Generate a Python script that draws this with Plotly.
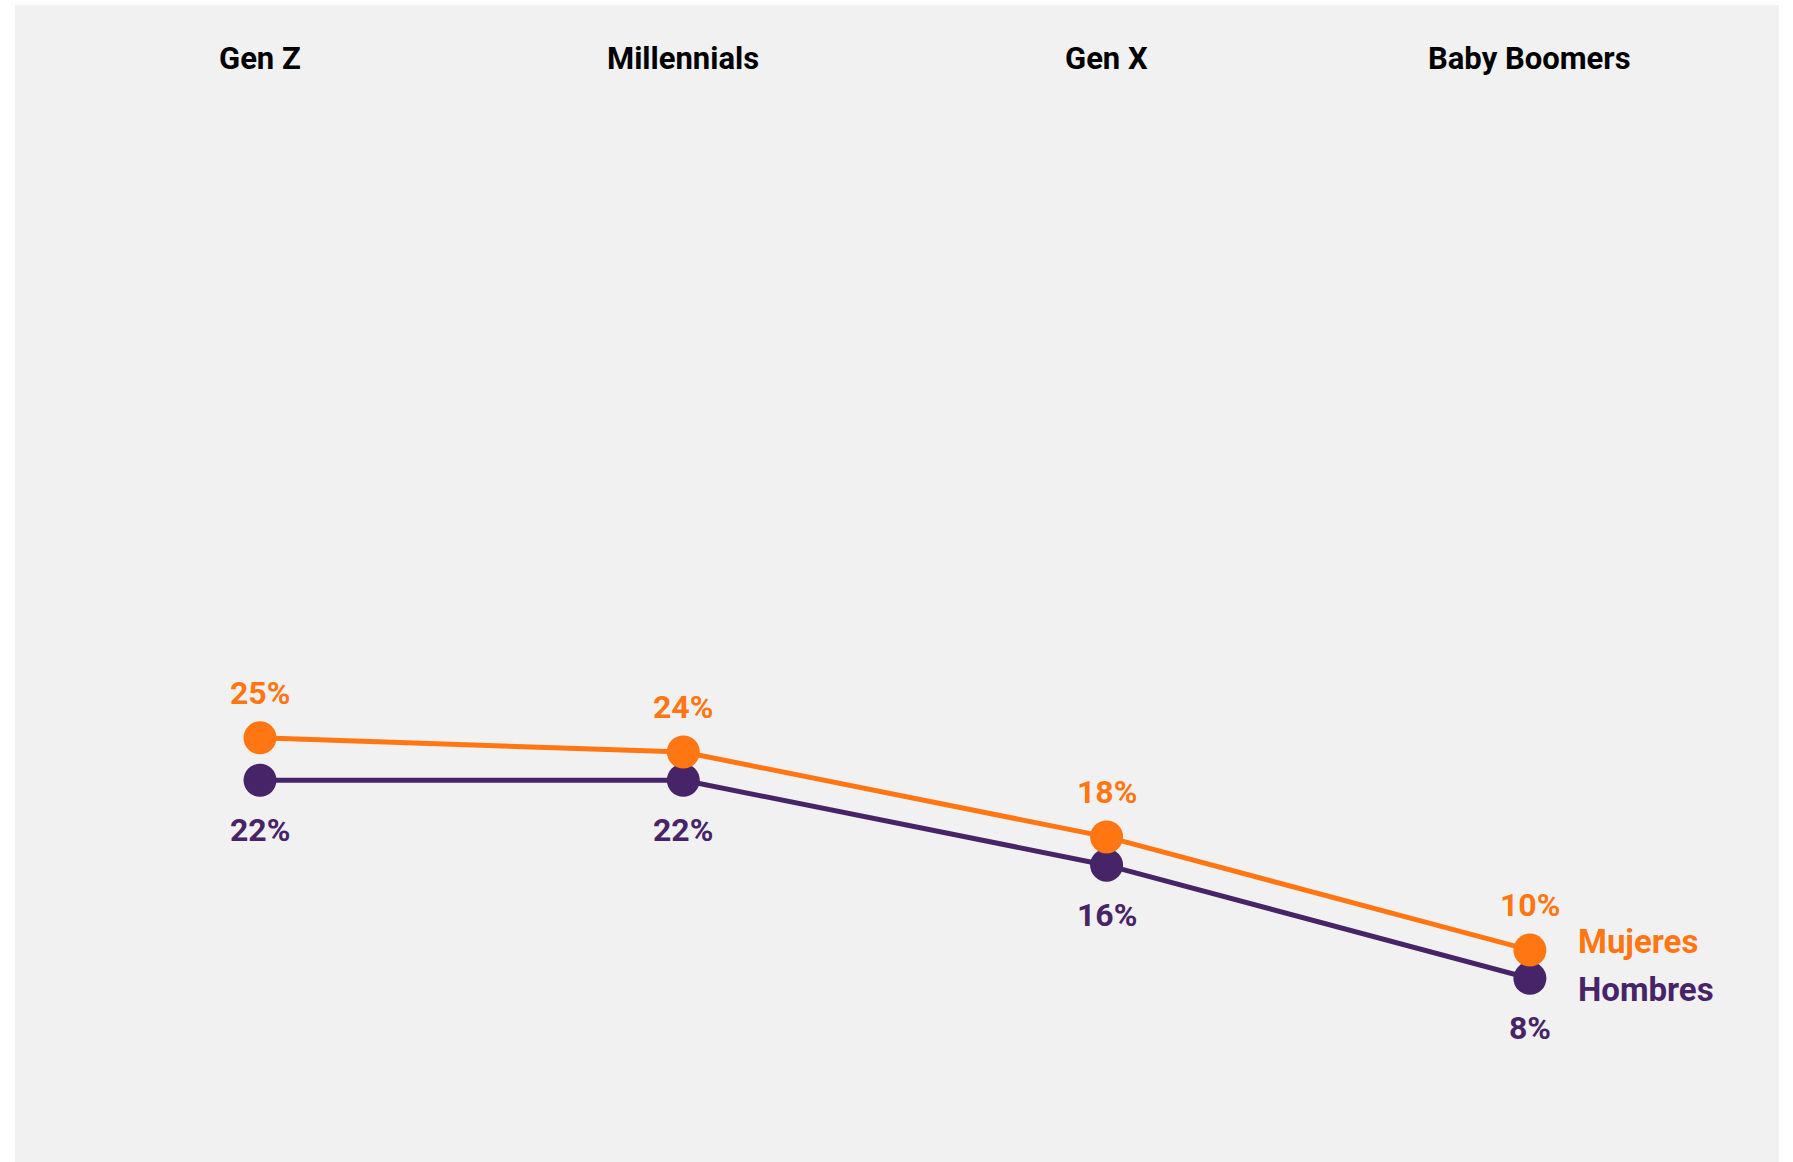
import plotly.graph_objects as go

categories = ["Gen Z", "Millennials", "Gen X", "Baby Boomers"]
mujeres = [25, 24, 18, 10]
hombres = [22, 22, 16, 8]
series_names = ["Mujeres", "Hombres"]

ORANGE = "#FF7612"
PURPLE = "#472467"
FONT = "Roboto"

xs = list(range(len(categories)))

fig = go.Figure()
fig.add_trace(go.Scatter(
    x=xs, y=hombres, mode="lines+markers",
    line=dict(color=PURPLE, width=5),
    marker=dict(color=PURPLE, size=33),
    hoverinfo="skip", showlegend=False))
fig.add_trace(go.Scatter(
    x=xs, y=mujeres, mode="lines+markers",
    line=dict(color=ORANGE, width=5),
    marker=dict(color=ORANGE, size=33),
    hoverinfo="skip", showlegend=False))

annotations = []
for i, c in enumerate(categories):
    annotations.append(dict(
        x=i, y=73.0, xref="x", yref="y", text=c, showarrow=False,
        font=dict(family=FONT, size=31, color="#000000", weight=700),
        xanchor="center", yanchor="middle"))
for i, v in enumerate(mujeres):
    annotations.append(dict(
        x=i, y=v, xref="x", yref="y", text=f"{v}%", showarrow=False,
        font=dict(family=FONT, size=32, color=ORANGE, weight=700),
        xanchor="center", yanchor="middle", yshift=45))
for i, v in enumerate(hombres):
    annotations.append(dict(
        x=i, y=v, xref="x", yref="y", text=f"{v}%", showarrow=False,
        font=dict(family=FONT, size=32, color=PURPLE, weight=700),
        xanchor="center", yanchor="middle", yshift=-50))

last = len(categories) - 1
annotations.append(dict(
    x=last, y=mujeres[-1], xref="x", yref="y", text=series_names[0], showarrow=False,
    font=dict(family=FONT, size=33, color=ORANGE, weight=700),
    xanchor="left", yanchor="middle", xshift=46, yshift=9))
annotations.append(dict(
    x=last, y=hombres[-1], xref="x", yref="y", text=series_names[1], showarrow=False,
    font=dict(family=FONT, size=33, color=PURPLE, weight=700),
    xanchor="left", yanchor="middle", xshift=46, yshift=-11))

fig.update_layout(
    width=1793, height=1162,
    margin=dict(l=15, r=14, t=5, b=0),
    paper_bgcolor="#FFFFFF",
    plot_bgcolor="#F1F1F1",
    xaxis=dict(range=[-0.5788, 3.5885], visible=False, fixedrange=True),
    yaxis=dict(range=[-4.98, 76.80], visible=False, fixedrange=True),
    annotations=annotations,
    showlegend=False,
)

fig.write_html("out.html", config={"displayModeBar": False},
               post_script="document.body.style.margin='0';")
